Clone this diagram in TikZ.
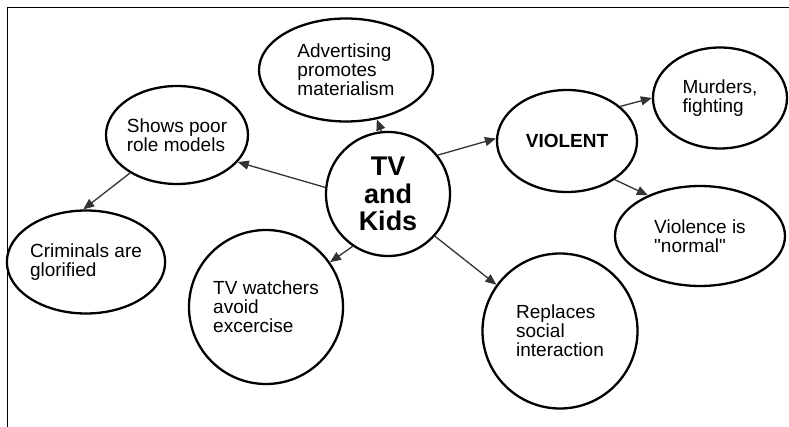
\documentclass[tikz,border=0pt]{standalone}
\usepackage{fontspec}
\setmainfont{Liberation Sans}[Ligatures=TeXOff]
\usetikzlibrary{arrows.meta,shapes.geometric}
\begin{document}
\begin{tikzpicture}[x=1pt,y=-1pt,
  bub/.style={draw=black, line width=2.3pt, ellipse, inner sep=0pt, align=left,
    font=\fontsize{19}{19}\selectfont},
  circ/.style={draw=black, line width=2.3pt, circle, inner sep=0pt, align=left,
    font=\fontsize{19}{19}\selectfont},
  arr/.style={draw=black!80, line width=1.3pt, -{Triangle[length=11pt,width=9pt]}},
  frameline/.style={draw=black, line width=1.4pt}]
\useasboundingbox (0,0) rectangle (789,427);
\coordinate (fa) at (7.5,427);
\coordinate (fb) at (7.5,7.5);
\coordinate (fc) at (789,7.5);
\draw[frameline] (fa) -- (fb) -- (fc);

\node[circ, minimum size=124pt, align=center,
  font=\fontsize{27}{27.5}\selectfont\bfseries] (tv) at (388,194) {TV\\and\\Kids};
\node[bub, minimum width=174pt, minimum height=103pt] (adv) at (346,70)
  {Advertising\\promotes\\materialism};
\node[bub, minimum width=142pt, minimum height=98pt] (shows) at (177,135)
  {Shows poor\\role models};
\node[bub, minimum width=140pt, minimum height=103pt] (crim) at (86,262)
  {Criminals are\\glorified};
\node[circ, minimum size=154pt] (watch) at (266,307)
  {TV watchers\\avoid\\excercise};
\node[bub, minimum width=140pt, minimum height=102pt,
  font=\fontsize{19}{19}\selectfont\bfseries] (violent) at (567,141) {VIOLENT};
\node[bub, minimum width=134pt, minimum height=101pt] (murders) at (720,98)
  {Murders,\\fighting};
\node[bub, minimum width=170pt, minimum height=100pt] (normal) at (700,236)
  {Violence is\\"normal"};
\node[circ, minimum size=155pt] (replaces) at (560,331)
  {Replaces\\social\\interaction};

\draw[arr] (tv.96) -- (adv.-58);
\draw[arr] (tv.174.6) -- (shows.-24);
\draw[arr] (shows.219) -- (crim.93);
\draw[arr] (tv.236) -- (watch.35);
\draw[arr] (tv.38.8) -- (violent.178.4);
\draw[arr] (violent.33.4) -- (murders.180);
\draw[arr] (violent.-39) -- (normal.142);
\draw[arr] (tv.-42) -- (replaces.144);
\end{tikzpicture}
\end{document}
